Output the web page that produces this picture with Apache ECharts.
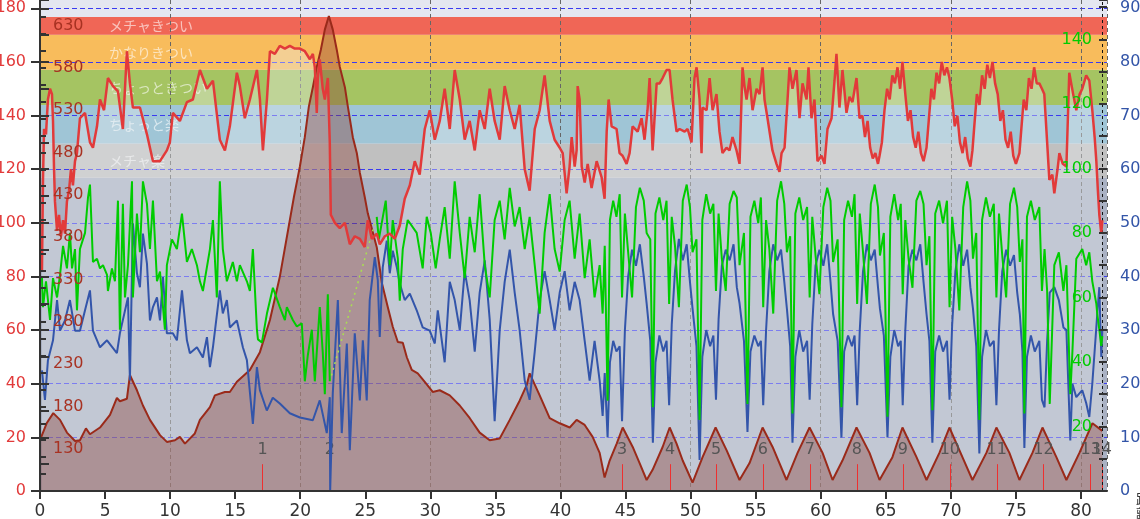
<!DOCTYPE html>
<html><head><meta charset="utf-8">
<script src="https://cdn.jsdelivr.net/npm/echarts@6/dist/echarts.min.js"></script>
<style>html,body{margin:0;padding:0;background:#fff}#c{width:1140px;height:519px}</style>
</head><body><div id="c"></div>
<script>
// ---- data ----
const xTicksMajor = 5;
const lapKm = [17.11,22.28,44.73,48.42,51.95,55.56,59.17,62.78,66.31,69.92,73.53,77.12,80.75,81.6];
const lapNames = ['1','2','3','4','5','6','7','8','9','10','11','12','13','14'];
const zoneEdges = [0,116.8,129.6,143.9,157.1,170.1,176.8];
const zoneNames = ['','メチャ楽','ちょっと楽','ちょっときつい','かなりきつい','メチャきつい'];
const zoneColors = ['#a9b1c3','#c0c0c0','#9fc5d6','#a5c462','#f8bc5c','#f06656'];
const elevKm = [0,0.51,1.02,1.54,2.07,2.69,3.07,3.53,3.84,4.61,5.38,5.91,6.14,6.68,6.91,7.45,7.91,8.45,9.22,9.75,10.37,10.75,11.14,11.9,12.29,13.06,13.44,14.21,14.59,15.13,16.13,16.9,17.67,18.43,19.51,19.97,20.35,20.66,20.97,21.27,21.58,21.89,22.2,22.5,22.81,23.04,23.43,23.66,24.04,24.35,24.58,24.96,25.19,25.88,26.27,26.73,27.11,27.5,27.88,28.19,28.57,29.03,29.57,30.18,30.72,31.49,32.26,33.03,33.79,34.56,35.33,36.1,36.87,37.4,37.63,38.4,39.17,39.94,40.71,41.24,41.86,42.47,43.01,43.39,43.78,44.32,44.78,45.55,46.08,46.62,47.08,47.85,48.39,48.92,49.39,50.15,50.92,51.92,52.77,53.76,54.53,55.53,56.3,57.37,58.22,59.14,60.14,60.91,61.67,62.75,63.75,64.52,65.51,66.28,67.36,68.13,69.12,69.89,70.89,71.66,72.73,73.5,74.5,75.27,76.27,77.04,78.11,78.88,79.88,80.88,81.64];
const elevM = [140,160,172,164,149,139,140,154,147,155,170,190,186,189,217,199,181,164,146,138,140,144,136,148,164,179,193,197,197,209,223,244,282,333,427,463,498,534,557,581,601,625,641,625,601,581,557,534,498,479,456,427,408,368,326,297,274,256,255,238,223,219,209,197,199,193,181,166,149,140,142,164,187,205,219,193,166,160,155,164,158,144,125,96,116,136,155,132,113,93,105,132,155,136,116,90,120,155,128,93,113,155,132,93,125,155,125,93,116,155,125,93,120,155,120,93,125,155,120,93,125,155,125,93,125,155,120,93,125,160,151];

const hrKm = [0.15,0.23,0.31,0.46,0.61,0.77,0.92,1.0,1.08,1.15,1.31,1.46,1.61,1.77,1.92,2.07,2.23,2.38,2.53,2.69,2.84,3.07,3.46,3.84,4.07,4.38,4.61,4.92,5.22,5.61,5.99,6.37,6.68,6.91,7.14,7.68,8.22,8.68,9.22,9.75,9.98,10.21,10.75,11.29,11.75,12.29,12.83,13.29,13.82,14.21,14.59,15.13,15.36,15.74,16.13,16.67,16.9,17.13,17.44,17.67,18.05,18.43,18.82,19.2,19.58,19.97,20.35,20.74,20.97,21.12,21.27,21.35,21.5,21.73,21.89,22.12,22.27,22.35,22.66,23.04,23.43,23.81,24.19,24.58,24.96,25.19,25.5,25.88,26.11,26.5,26.88,27.27,27.65,
  28.03,28.42,28.8,29.18,29.57,29.95,30.34,30.72,31.1,31.49,31.87,32.26,32.64,33.02,33.41,33.79,34.18,34.56,34.94,35.33,35.71,36.1,36.48,36.86,37.25,37.63,38.02,38.4,38.78,39.17,39.55,
  39.94,40.17,40.47,40.7,40.86,41.09,41.24,41.32,41.47,41.63,41.86,42.09,42.39,42.78,43.16,43.39,43.55,43.7,43.93,44.31,44.54,44.77,45.08,45.31,45.54,45.93,46.23,46.46,46.69,46.85,47.08,47.39,47.62,47.85,48.15,48.38,48.61,48.92,49.15,49.54,49.77,50.07,50.3,50.46,50.69,50.84,50.92,51.23,51.46,51.69,51.99,52.22,52.45,52.76,52.99,53.22,53.53,53.76,53.99,54.14,54.3,54.53,54.76,55.07,55.3,55.53,55.68,55.91,56.29,56.6,56.83,56.99,57.22,57.45,57.6,57.83,58.14,58.37,58.6,58.91,59.06,59.29,59.52,59.75,60.06,60.29,60.52,60.83,61.06,61.21,61.44,61.67,61.98,62.21,62.44,62.75,62.98,
  63.2,63.4,63.6,63.8,64.0,64.2,64.4,64.52,64.7,64.9,65.1,65.3,65.5,65.7,65.9,66.1,66.28,66.5,66.7,66.9,67.1,67.3,67.5,67.7,67.9,68.13,68.3,68.5,68.7,68.9,69.1,69.3,69.5,69.7,69.89,70.1,70.3,70.5,70.7,70.9,71.1,71.3,71.5,71.66,71.8,72.0,72.2,72.4,72.6,72.8,73.0,73.2,73.4,73.6,73.8,74.0,74.2,74.4,74.6,74.8,75.0,75.27,75.4,75.6,75.8,76.0,76.2,76.4,76.6,76.8,77.0,77.18,77.4,77.57,77.8,77.95,78.2,78.34,78.6,78.88,79.1,79.4,79.64,79.9,80.1,80.4,80.64,80.87,81.05,81.18,81.3,81.41,81.56,81.64];
const hrBpm = [82,116,135,133,146,150,148,138,120,108,97,103,95,101,96,108,112,120,114,123,126,139,141,130,128,136,146,142,154,151,149,135,164,152,143,143,133,123,123,127,130,141,138,145,146,157,150,153,131,127,136,156,151,139,146,157,146,127,146,164,163,166,165,166,165,165,164,161,163,158,141,154,161,150,146,154,130,103,100,98,100,92,95,94,91,101,94,96,92,95,96,94,99,
  109,114,123,118,135,142,131,138,150,135,157,146,131,138,127,142,135,150,138,131,151,142,135,144,120,112,135,142,155,138,131,
  128,126,111,121,132,121,127,151,146,121,115,122,113,123,117,109,134,146,136,135,126,125,122,126,136,134,139,131,142,154,127,152,152,154,157,157,146,134,135,134,135,130,154,158,146,126,143,142,154,142,148,134,126,128,127,132,127,122,158,151,146,154,142,150,148,158,146,139,127,122,119,126,128,146,158,150,157,139,152,146,158,139,146,123,125,122,135,139,153,163,143,157,141,147,145,154,139,
  140,132,138,128,124,126,122,125,130,142,150,146,155,152,158,150,160,148,138,142,132,128,134,126,123,128,138,150,146,156,152,160,155,158,154,146,136,140,130,126,132,124,121,127,136,148,144,155,150,159,154,160,152,148,138,142,131,128,134,125,122,126,134,146,142,154,150,158,152,152,150,148,130,116,118,111,120,126,122,121,156,148,142,148,150,155,153,142,132,123,112,103,96,101];

const spdKmA = [0.15,0.38,0.61,1.0,1.31,1.54,1.92,2.3,2.69,3.07,3.46,3.84,4.07,4.61,5.15,5.91,6.14,6.76,6.91,7.14,7.45,7.68,7.91,8.22,8.45,8.68,8.99,9.22,9.45,9.75,10.21,10.52,10.91,11.29,11.52,12.06,12.52,12.83,13.06,13.29,13.82,14.05,14.36,14.59,15.13,15.59,15.9,16.36,16.67,16.9,17.43,17.89,18.43,19.2,19.97,20.97,21.5,22.04,22.27,22.3,22.5,22.89,23.19,23.58,23.81,24.19,24.58,24.81,25.11,25.34,25.73,25.96,26.11,26.34,26.65,26.88,27.11,27.42,27.65,28.03,28.42,28.95,29.41,29.95,30.34,30.57];
const spdKmhA = [22.5,17,24.4,28.1,35.6,29.9,31.8,35.6,29.9,29.9,33.7,37.4,29.9,26.8,28.1,25.7,29.4,36.1,20.6,49.9,40.6,38,48,42.4,31.8,34.3,36.1,31.8,39.9,29.4,29.4,28.1,37.4,28.1,25.7,26.8,24.9,28.7,23.1,26.8,37.4,33.1,35.6,30.5,31.8,26.8,24.4,12.5,23.1,18.8,15,17.4,16.3,14.5,13.7,13.2,16.9,10.8,17.5,0,18.2,35.6,10.8,27.5,7.6,29.4,16.9,28.1,16.9,35.6,43.6,39.3,28.7,41.7,46.7,40.6,44.8,41.7,38.7,35.6,36.8,33.7,30.5,29.9,27.5,33.7];
const midKm = [30.72,31.1,31.49,31.87,32.26,32.64,33.02,33.41,33.79,34.18,34.56,34.94,35.33,35.71,36.1,36.48,36.86,37.25,37.63,38.02,38.4,38.78,39.17,39.55,39.94,40.32,40.7,41.09,41.47,41.86,42.24,42.62];
const spdKmhMid = [33.7,24,39,35.6,30,41,35.6,26,37,43,32,13,30,39,45,37,30,20.6,17,26,35.6,41,35.6,30,37,41,33.7,39,35.6,28,20.6,28];
const lapSecKm = [43.01,43.24,43.4,43.62,43.8,44.05,44.3,44.55,44.73,
  44.95,45.2,45.5,45.8,46.1,46.4,46.62,46.9,47.1,47.3,47.6,47.9,48.15,48.35,
  48.55,48.8,49.1,49.4,49.7,49.95,50.15,50.45,50.69,50.9,51.2,51.5,51.75,51.95,
  52.15,52.4,52.7,53.0,53.3,53.55,53.76,54.1,54.37,54.6,54.9,55.2,55.4,55.58,
  55.8,56.05,56.35,56.65,56.95,57.2,57.4,57.65,57.83,58.05,58.35,58.65,58.95,59.15,
  59.35,59.6,59.9,60.2,60.5,60.75,60.95,61.3,61.59,61.8,62.1,62.4,62.6,62.8,
  63.0,63.25,63.55,63.85,64.15,64.4,64.55,64.85,65.13,65.35,65.65,65.95,66.15,66.3,
  66.5,66.75,67.05,67.35,67.65,67.9,68.13,68.35,68.58,68.8,69.1,69.4,69.7,69.9,
  70.1,70.35,70.65,70.95,71.25,71.5,71.7,71.95,72.19,72.4,72.7,73.0,73.3,73.5,
  73.7,73.95,74.25,74.55,74.85,75.1,75.3,75.5,75.65,75.85,76.15,76.45,76.8,77.0,
  77.2,77.4,77.6,77.95,78.3,78.65,78.88,79.18,79.34,79.64,80.1,80.4,80.64,80.87,81.18,81.25,81.41,81.56,81.64];
const spdKmhLap = [20.6,14,22,10,24,28,26,27,13,
  30,40,45,42,46,40,35,28,9,24,29,26,28,16,
  31,41,47,43,46,39,34,27,5.8,25,30,27,29,17,
  32,42,45,43,46,38,35,28,11,26,29,27,28,16,
  30,41,46,43,45,39,34,27,9,25,30,26,28,17,
  31,42,45,42,46,39,33,28,10,26,29,27,29,16,
  30,41,46,43,45,38,34,29,10,25,30,27,28,16,
  30,42,45,43,46,39,33,28,9,26,29,26,28,17,
  31,41,46,42,45,38,34,27,7,25,30,27,28,16,
  30,41,45,42,44,37,33,26,8,25,29,26,28,17,
  15.6,28,37,38,35.6,30.5,30,9.4,20,17.5,18.8,16.4,13.8,20,30.5,33,38,25,30];

const cadKmA = [0.15,0.23,0.46,0.77,1.0,1.31,1.54,1.77,2.07,2.3,2.46,2.69,2.84,3.07,3.46,3.69,3.84,4.07,4.38,4.61,4.84,5.15,5.22,5.53,5.76,5.99,6.14,6.37,6.53,6.76,7.07,7.14,7.45,7.68,7.91,8.22,8.45,8.68,8.99,9.22,9.6,9.75,10.14,10.52,10.91,11.29,11.67,12.06,12.29,12.52,13.06,13.29,13.59,13.82,14.05,14.36,14.82,15.13,15.36,15.9,16.13,16.36,16.67,16.75,17.05,17.44,17.9,18.43,18.82,18.97,19.43,19.74,20.12,20.35,20.58,20.89,21.12,21.5,21.73,21.89,22.12,22.27,null,25.88,26.04,26.57,26.88,27.11,27.5,27.65,27.88,28.26,28.95,29.41,29.72,30.03,30.41];
const cadRpmA = [66,57,65,53,66,60,67,76,69,80,69,75,56,75,80,91,95,71,72,69,70,67,62,69,65,90,50,89,60,70,96,60,86,74,96,89,75,90,65,68,50,70,78,75,86,71,75,70,65,62,75,84,60,96,75,65,71,65,70,65,62,75,50,47,46,55,63,57,53,57,53,51,52,34,42,50,34,57,43,30,61,34,null,85,78,90,70,84,72,59,75,84,80,69,85,80,69];
const cadRpmMid = [78,88,72,96,80,66,85,74,92,70,60,84,90,78,94,82,88,75,85,70,55,80,92,75,68,84,90,72,86,66,78,60];
const cadRpmLap = [70,55,76,28,84,90,85,92,60,
  86,74,60,88,94,90,80,78,26,86,91,84,90,58,
  85,76,57,90,95,88,74,78,22,84,92,86,89,62,
  86,72,62,89,93,91,70,80,27,85,90,83,91,57,
  84,75,55,90,96,89,74,79,24,86,91,84,88,60,
  85,73,61,88,94,90,71,78,26,84,90,85,92,58,
  86,74,58,89,95,88,73,80,23,85,92,84,89,61,
  84,72,63,90,93,89,70,79,25,86,90,83,90,57,
  85,75,56,88,96,90,72,80,22,84,91,85,89,60,
  86,73,60,89,94,88,71,78,24,85,90,84,88,62,
  75,62,27,70,74,62,70,30,43,72,75,70,74,65,58,55,50,45,48];
const cadGapKm = [22.27,25.88];
const cadGapRpm = [34,85];
const endKm = 81.65;

// ---- build ----
const pair = (xs, ys) => xs.map((x, i) => (x === null || ys[i] === null) ? [null, null] : [x, ys[i]]);
const hrData = pair(hrKm, hrBpm);
const spdData = pair(spdKmA.concat(midKm, lapSecKm), spdKmhA.concat(spdKmhMid, spdKmhLap));
const cadData = pair(cadKmA.concat(midKm, lapSecKm), cadRpmA.concat(cadRpmMid, cadRpmLap));
const zoneAreas = [];
for (let i = 0; i < zoneColors.length; i++) {
  zoneAreas.push([{ name: zoneNames[i], yAxis: zoneEdges[i], itemStyle: { color: zoneColors[i] } }, { yAxis: zoneEdges[i + 1] }]);
}
const elevMin = 80, elevPerHr = 580 / 183.1;
const lapLines = lapKm.map((k, i) => [{ coord: [k, elevMin], name: lapNames[i] }, { coord: [k, elevMin + 10 * elevPerHr] }]);

const chart = echarts.init(document.getElementById('c'), null, { renderer: 'canvas' });
const FONT = 'DejaVu Sans, sans-serif';
chart.setOption({
  animation: false,
  grid: { left: 40, right: 33, top: 0, bottom: 28, show: true, backgroundColor: '#e4e6f0', borderWidth: 0, containLabel: false, outerBoundsMode: 'none' },
  xAxis: [
    { type: 'value', min: 0, max: 82, interval: xTicksMajor, z: 10,
      name: '距\n離', nameLocation: 'end', nameGap: 22, nameTextStyle: { fontSize: 14, color: '#333', fontFamily: 'Noto Sans CJK JP', verticalAlign: 'top', lineHeight: 15 },
      axisLine: { lineStyle: { color: '#333', width: 2 } },
      axisTick: { length: 8, lineStyle: { color: '#333', width: 2 } },
      axisLabel: { color: '#333', fontSize: 17, margin: 12, fontFamily: FONT, showMaxLabel: false },
      splitLine: { show: false } },
    { type: 'value', min: 0, max: 82, interval: 10, z: 2, position: 'bottom',
      axisLine: { show: false }, axisTick: { show: false }, axisLabel: { show: false },
      splitLine: { show: true, lineStyle: { color: '#666', width: 1, type: [4, 3] } } }
  ],
  yAxis: [
    { type: 'value', min: 0, max: 183.1, interval: 20, position: 'left', z: 10,
      axisLine: { show: true, lineStyle: { color: '#333', width: 2 } },
      axisTick: { show: true, length: 9, lineStyle: { color: '#333', width: 2 } },
      axisLabel: { color: '#e23a3a', fontSize: 16, margin: 14, fontFamily: FONT, showMaxLabel: false },
      splitLine: { show: false } },
    { type: 'value', min: 0, max: 91.55, interval: 10, position: 'right', z: 10,
      axisLine: { show: true, lineStyle: { color: '#333', width: 2 } },
      axisTick: { show: true, length: 9, lineStyle: { color: '#333', width: 2 } },
      minorTick: { show: true, splitNumber: 2, length: 9, lineStyle: { color: '#333', width: 2 } },
      axisLabel: { color: '#3355a8', fontSize: 16, margin: 13, fontFamily: FONT, showMaxLabel: false },
      splitLine: { show: false } },
    { type: 'value', min: 0, max: 152.2, interval: 20, position: 'right', z: 10,
      axisLine: { show: false },
      axisTick: { show: true, inside: true, length: 8, lineStyle: { color: '#333', width: 2 } },
      minorTick: { show: true, splitNumber: 2, length: 8, lineStyle: { color: '#333', width: 2 } },
      axisLabel: { inside: true, color: '#00cc00', fontSize: 16, margin: 15, fontFamily: FONT, showMinLabel: false, showMaxLabel: false },
      splitLine: { show: false } },
    { type: 'value', min: 80, max: 660, interval: 50, position: 'left', z: 10,
      axisLine: { show: false }, axisTick: { show: false },
      axisLabel: { inside: true, color: '#a83222', fontSize: 16, margin: 13, fontFamily: FONT, showMinLabel: false, showMaxLabel: false },
      splitLine: { show: false } },
    { type: 'value', min: 80, max: 660, interval: 20, position: 'left', z: 10,
      axisLine: { show: false },
      axisTick: { show: true, inside: true, length: 6, lineStyle: { color: '#333', width: 2 } },
      axisLabel: { show: false }, splitLine: { show: false } },
    { type: 'value', min: 0, max: 183.1, interval: 20, position: 'left', z: 2,
      axisLine: { show: false }, axisTick: { show: false }, axisLabel: { show: false },
      splitLine: { show: true, lineStyle: { color: ['rgba(0,0,0,0)','#3a3af0','#3a3af0','#3a3af0','#3a3af0','#3a3af0','#3a3af0','#3a3af0','#3a3af0','#3a3af0','rgba(0,0,0,0)'], width: 1, type: [5, 3] } } }
  ],
  series: [
    { type: 'line', name: 'hrfill', xAxisIndex: 0, yAxisIndex: 0, z: 3, data: hrData, symbol: 'none', silent: true,
      lineStyle: { width: 0 }, areaStyle: { color: 'rgba(235,240,242,0.53)', origin: 'start' },
      markArea: { z: 1, silent: true, data: zoneAreas,
        label: { show: true, position: 'insideLeft', distance: 5, offset: [64, 0], color: 'rgba(255,255,255,0.6)', fontSize: 14, fontFamily: 'Noto Sans CJK JP' } } },
    { type: 'line', name: 'elev', xAxisIndex: 0, yAxisIndex: 3, z: 4, data: pair(elevKm, elevM), symbol: 'none',
      lineStyle: { color: '#9a2a1a', width: 2 }, areaStyle: { color: 'rgba(138,60,52,0.55)', origin: 'start' },
      markLine: { silent: true, symbol: 'none', z: 5, data: lapLines,
        lineStyle: { color: '#ee3030', width: 1, type: 'solid' },
        label: { show: true, position: 'end', formatter: p => p.name, color: '#555', fontSize: 16, fontFamily: FONT, distance: 6 } } },
    { type: 'line', name: 'speed', xAxisIndex: 0, yAxisIndex: 1, z: 5, data: spdData, symbol: 'none',
      lineStyle: { color: '#3355aa', width: 2 } },
    { type: 'line', name: 'cadgap', xAxisIndex: 0, yAxisIndex: 2, z: 6, data: pair(cadGapKm, cadGapRpm), symbol: 'none',
      lineStyle: { color: '#a8e050', width: 1.5, type: [2, 4] } },
    { type: 'line', name: 'cad', xAxisIndex: 0, yAxisIndex: 2, z: 6, data: cadData, symbol: 'none', connectNulls: false,
      lineStyle: { color: '#00cc00', width: 2 } },
    { type: 'line', name: 'hr', xAxisIndex: 0, yAxisIndex: 0, z: 7, data: hrData, symbol: 'none',
      lineStyle: { color: '#e23a3a', width: 2.5 },
      markLine: { silent: true, symbol: 'none', data: [{ xAxis: endKm }], label: { show: false },
        lineStyle: { color: '#111', width: 1, type: [3, 3] } } }
  ]
});
</script></body></html>
